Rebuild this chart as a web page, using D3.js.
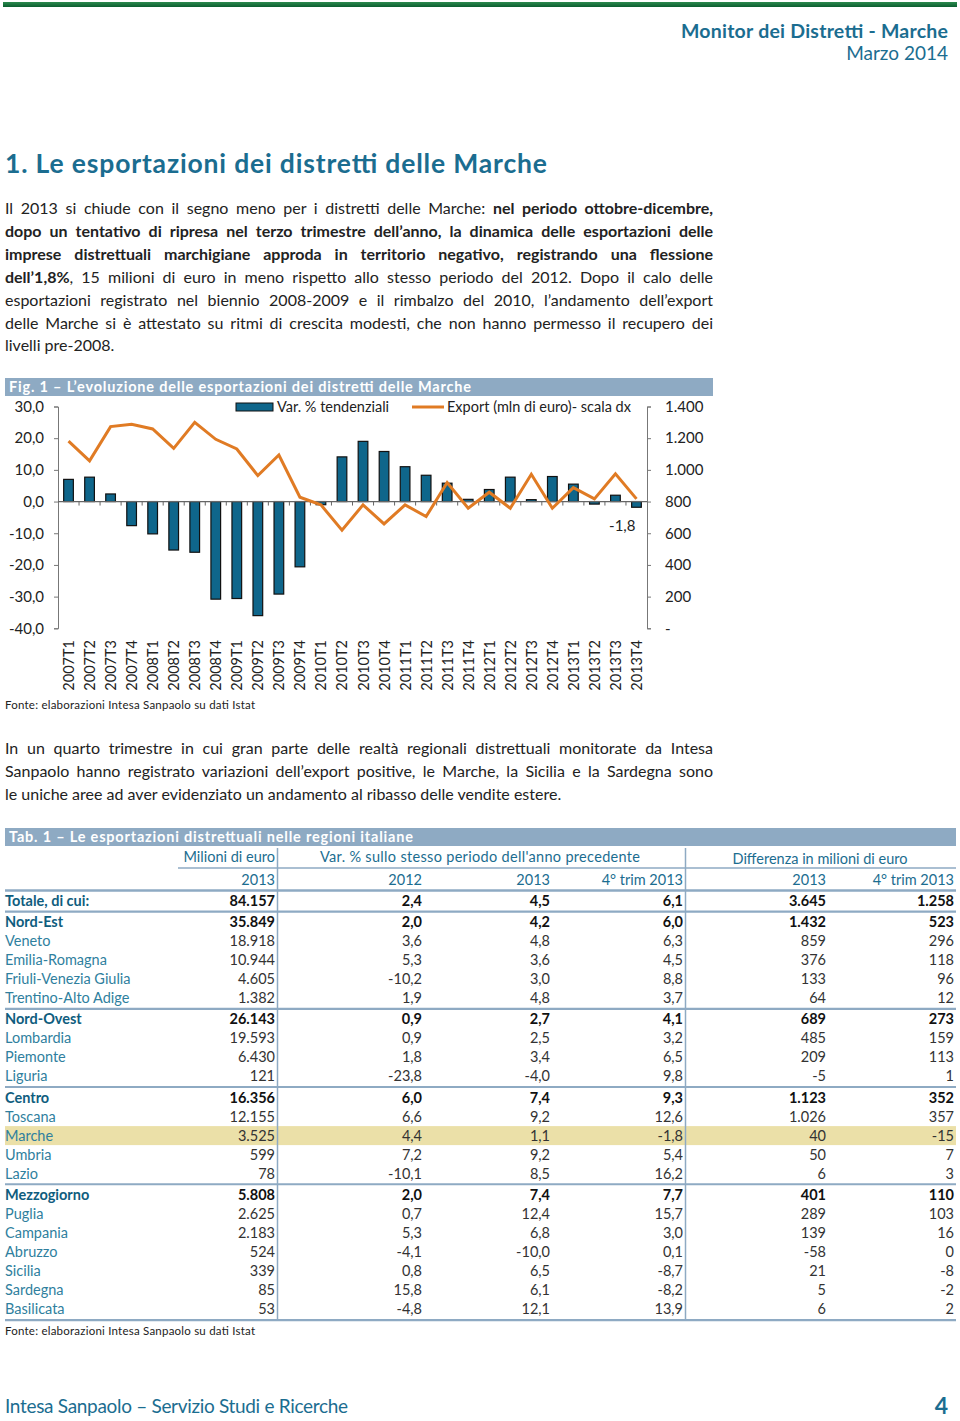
<!DOCTYPE html>
<html><head><meta charset="utf-8">
<script src="https://cdn.jsdelivr.net/npm/d3@7"></script>
<style>body{margin:0;background:#fff} svg{display:block;font-family:Lato,"Open Sans",sans-serif}</style>
</head><body><svg id="page" width="960" height="1421"></svg>
<script>
// ---------- DATA ----------
const categories = ["2007T1","2007T2","2007T3","2007T4","2008T1","2008T2","2008T3","2008T4",
  "2009T1","2009T2","2009T3","2009T4","2010T1","2010T2","2010T3","2010T4","2011T1","2011T2",
  "2011T3","2011T4","2012T1","2012T2","2012T3","2012T4","2013T1","2013T2","2013T3","2013T4"];
const varPct = [7.0, 7.7, 2.4, -7.6, -10.2, -15.3, -16.0, -30.8, -30.6, -36.0, -29.2, -20.6,
  -1.0, 14.1, 19.0, 15.8, 11.0, 8.3, 5.8, 0.7, 3.8, 7.7, 0.6, 7.9, 5.5, -0.8, 2.0, -1.8];
const exportMln = [1181, 1057, 1273, 1288, 1258, 1136, 1300, 1193, 1132, 964, 1094, 827,
  779, 619, 779, 659, 779, 705, 920, 758, 859, 758, 972, 758, 888, 817, 975, 817];
const leftTicks = [30, 20, 10, 0, -10, -20, -30, -40];
const rightTicks = [1400, 1200, 1000, 800, 600, 400, 200, 0];
const seriesNames = ["Var. % tendenziali", "Export (mln di euro)- scala dx"];

const regions = ["Totale, di cui:", "Nord-Est", "Veneto", "Emilia-Romagna", "Friuli-Venezia Giulia",
  "Trentino-Alto Adige", "Nord-Ovest", "Lombardia", "Piemonte", "Liguria", "Centro", "Toscana",
  "Marche", "Umbria", "Lazio", "Mezzogiorno", "Puglia", "Campania", "Abruzzo", "Sicilia",
  "Sardegna", "Basilicata"];
const groupRows = ["Totale, di cui:", "Nord-Est", "Nord-Ovest", "Centro", "Mezzogiorno"];
const highlightRow = "Marche";
const mln2013 = [84157, 35849, 18918, 10944, 4605, 1382, 26143, 19593, 6430, 121, 16356, 12155,
  3525, 599, 78, 5808, 2625, 2183, 524, 339, 85, 53];
const var2012 = [2.4, 2.0, 3.6, 5.3, -10.2, 1.9, 0.9, 0.9, 1.8, -23.8, 6.0, 6.6, 4.4, 7.2, -10.1,
  2.0, 0.7, 5.3, -4.1, 0.8, 15.8, -4.8];
const var2013 = [4.5, 4.2, 4.8, 3.6, 3.0, 4.8, 2.7, 2.5, 3.4, -4.0, 7.4, 9.2, 1.1, 9.2, 8.5,
  7.4, 12.4, 6.8, -10.0, 6.5, 6.1, 12.1];
const var4q2013 = [6.1, 6.0, 6.3, 4.5, 8.8, 3.7, 4.1, 3.2, 6.5, 9.8, 9.3, 12.6, -1.8, 5.4, 16.2,
  7.7, 15.7, 3.0, 0.1, -8.7, -8.2, 13.9];
const diff2013 = [3645, 1432, 859, 376, 133, 64, 689, 485, 209, -5, 1123, 1026, 40, 50, 6,
  401, 289, 139, -58, 21, 5, 6];
const diff4q2013 = [1258, 523, 296, 118, 96, 12, 273, 159, 113, 1, 352, 357, -15, 7, 3,
  110, 103, 16, 0, -8, -2, 2];
const headerTop = ["Milioni di euro", "Var. % sullo stesso periodo dell'anno precedente", "Differenza in milioni di euro"];
const headerSub = ["2013", "2012", "2013", "4° trim 2013", "2013", "4° trim 2013"];

// ---------- STYLE ----------
const TEAL = "#1b6d90", TEAL_L = "#2f7f9e", BAND = "#8eaac3", BAR = "#0f668b", ORANGE = "#e07b24";
const loc = d3.formatLocale({decimal: ",", thousands: ".", grouping: [3], currency: ["€", ""], minus: "-"});
const f1 = loc.format(",.1f"), f0 = loc.format(",.0f");

const svg = d3.select("#page");
svg.append("rect").attr("width", 960).attr("height", 1421).attr("fill", "#fff");

// top green rule
const gr = svg.append("defs").append("linearGradient").attr("id", "gr").attr("x1", 0).attr("x2", 0).attr("y1", 0).attr("y2", 1);
gr.append("stop").attr("offset", 0).attr("stop-color", "#2b8a4e");
gr.append("stop").attr("offset", 1).attr("stop-color", "#0c5e30");
svg.append("rect").attr("x", 3).attr("y", 2).attr("width", 954).attr("height", 5).attr("fill", "url(#gr)");

svg.append("text").attr("x", 948).attr("y", 38).attr("text-anchor", "end").attr("font-size", 19.5)
  .attr("font-weight", 700).attr("fill", TEAL).attr("textLength", 267).attr("lengthAdjust", "spacing")
  .text("Monitor dei Distretti - Marche");
svg.append("text").attr("x", 948).attr("y", 60).attr("text-anchor", "end").attr("font-size", 19)
  .attr("fill", TEAL).text("Marzo 2014");

svg.append("text").attr("x", 5).attr("y", 173).attr("font-size", 26.5).attr("font-weight", 700)
  .attr("fill", TEAL).attr("textLength", 542).attr("lengthAdjust", "spacing")
  .text("1. Le esportazioni dei distretti delle Marche");

// ---------- justified paragraphs ----------
function para(lines, x, y0, lh, width) {
  lines.forEach((segs, i) => {
    const t = svg.append("text").attr("x", x).attr("y", y0 + i * lh).attr("font-size", 16).attr("fill", "#222");
    segs.forEach(s => t.append("tspan").attr("font-weight", s[1] ? 700 : 400).text(s[0]));
    if (i < lines.length - 1) {
      const full = segs.map(s => s[0]).join("");
      const n = (full.match(/ /g) || []).length;
      const len = t.node().getComputedTextLength();
      if (n > 0) t.attr("word-spacing", (width - len) / n);
    }
  });
}
para([
  [["Il 2013 si chiude con il segno meno per i distretti delle Marche: ", 0], ["nel periodo ottobre-dicembre,", 1]],
  [["dopo un tentativo di ripresa nel terzo trimestre dell’anno, la dinamica delle esportazioni delle", 1]],
  [["imprese distrettuali marchigiane approda in territorio negativo, registrando una flessione", 1]],
  [["dell’1,8%", 1], [", 15 milioni di euro in meno rispetto allo stesso periodo del 2012. Dopo il calo delle", 0]],
  [["esportazioni registrato nel biennio 2008-2009 e il rimbalzo del 2010, l’andamento dell’export", 0]],
  [["delle Marche si è attestato su ritmi di crescita modesti, che non hanno permesso il recupero dei", 0]],
  [["livelli pre-2008.", 0]]
], 5, 214, 22.9, 708);

// ---------- CHART ----------
svg.append("rect").attr("x", 5).attr("y", 378).attr("width", 708).attr("height", 18).attr("fill", BAND);
svg.append("text").attr("x", 9).attr("y", 392).attr("font-size", 14.5).attr("font-weight", 700)
  .attr("fill", "#fff").attr("textLength", 462).attr("lengthAdjust", "spacing")
  .text("Fig. 1 – L’evoluzione delle esportazioni dei distretti delle Marche");

const x = d3.scaleBand().domain(categories).range([58, 647]).paddingInner(0.54).paddingOuter(0.27);
const yL = d3.scaleLinear().domain([-40, 30]).range([628.3, 406.5]);
const yR = d3.scaleLinear().domain([0, 1400]).range([628.3, 406.5]);
const cx = d => x(d) + x.bandwidth() / 2;

const ch = svg.append("g").attr("font-size", 15).attr("fill", "#222");

// left axis
const axL = ch.append("g").attr("transform", "translate(58,0)")
  .call(d3.axisLeft(yL).tickValues(leftTicks).tickSize(4).tickPadding(10).tickFormat(f1));
axL.select(".domain").attr("stroke", "#777");
axL.selectAll(".tick line").attr("stroke", "#777");
axL.selectAll("text").attr("font-size", 15).attr("fill", "#222");
axL.attr("font-family", null);

// right axis
const axR = ch.append("g").attr("transform", "translate(647,0)")
  .call(d3.axisRight(yR).tickValues(rightTicks).tickSize(4).tickPadding(14)
    .tickFormat(v => v === 0 ? "-" : f0(v)));
axR.select(".domain").attr("stroke", "#777");
axR.selectAll(".tick line").attr("stroke", "#777");
axR.selectAll("text").attr("font-size", 15).attr("fill", "#222");
axR.attr("font-family", null);

// bars
ch.append("g").selectAll("rect").data(categories).join("rect")
  .attr("x", d => x(d)).attr("width", x.bandwidth())
  .attr("y", (d, i) => yL(Math.max(0, varPct[i])))
  .attr("height", (d, i) => Math.abs(yL(varPct[i]) - yL(0)))
  .attr("fill", BAR).attr("stroke", "#111").attr("stroke-width", 1.2);

// zero axis with category ticks
const axX = ch.append("g").attr("transform", `translate(0,${yL(0)})`);
axX.append("line").attr("x1", 58).attr("x2", 647).attr("stroke", "#666").attr("stroke-width", 1.2);
axX.selectAll("line.t").data(categories.slice(1)).join("line").attr("class", "t")
  .attr("x1", d => x(d) - x.step() * x.paddingInner() / 2).attr("x2", d => x(d) - x.step() * x.paddingInner() / 2)
  .attr("y1", 0).attr("y2", 4).attr("stroke", "#666");

// line
ch.append("path").datum(exportMln)
  .attr("d", d3.line().x((v, i) => cx(categories[i])).y(v => yR(v)))
  .attr("fill", "none").attr("stroke", ORANGE).attr("stroke-width", 3).attr("stroke-linejoin", "miter");

// x labels
ch.append("g").selectAll("text").data(categories).join("text")
  .attr("transform", d => `translate(${cx(d) + 5.5},640) rotate(-90)`)
  .attr("text-anchor", "end").attr("font-size", 14.5).attr("fill", "#222").text(d => d);

// last value label
const last = categories.length - 1;
ch.append("text").attr("x", cx(categories[last]) - 1).attr("y", yL(varPct[last]) + 23.5)
  .attr("text-anchor", "end").attr("font-size", 15).attr("fill", "#222").text(f1(varPct[last]));

// legend
const lg = ch.append("g");
lg.append("rect").attr("x", 236).attr("y", 403).attr("width", 37).attr("height", 8)
  .attr("fill", BAR).attr("stroke", "#111").attr("stroke-width", 1);
lg.append("text").attr("x", 277).attr("y", 412).attr("font-size", 14.5).text(seriesNames[0]);
lg.append("line").attr("x1", 412).attr("x2", 444).attr("y1", 407).attr("y2", 407)
  .attr("stroke", ORANGE).attr("stroke-width", 3);
lg.append("text").attr("x", 447).attr("y", 412).attr("font-size", 14.5).text(seriesNames[1]);

svg.append("text").attr("x", 5).attr("y", 709).attr("font-size", 11.5).attr("fill", "#222")
  .attr("textLength", 250).attr("lengthAdjust", "spacing")
  .text("Fonte: elaborazioni Intesa Sanpaolo su dati Istat");

para([
  [["In un quarto trimestre in cui gran parte delle realtà regionali distrettuali monitorate da Intesa", 0]],
  [["Sanpaolo hanno registrato variazioni dell’export positive, le Marche, la Sicilia e la Sardegna sono", 0]],
  [["le uniche aree ad aver evidenziato un andamento al ribasso delle vendite estere.", 0]]
], 5, 754, 22.9, 708);

// ---------- TABLE ----------
svg.append("rect").attr("x", 5).attr("y", 828).attr("width", 951).attr("height", 18).attr("fill", BAND);
svg.append("text").attr("x", 9).attr("y", 842).attr("font-size", 14.5).attr("font-weight", 700)
  .attr("fill", "#fff").attr("textLength", 404).attr("lengthAdjust", "spacing")
  .text("Tab. 1 – Le esportazioni distrettuali nelle regioni italiane");

const colRight = [275, 422, 550, 683, 826, 954];
const cols = [mln2013, var2012, var2013, var4q2013, diff2013, diff4q2013];
const fmts = [f0, f1, f1, f1, f0, f0];
const rowY = [];
regions.forEach((r, i) => {
  if (i === 0) rowY.push(901);
  else rowY.push(rowY[i - 1] + 19.05 + (groupRows.includes(r) ? 2 : 0));
});

const tb = svg.append("g").attr("font-size", 14.5);
// highlight
const hi = regions.indexOf(highlightRow);
tb.append("rect").attr("x", 5).attr("y", rowY[hi] - 9.5).attr("width", 951).attr("height", 19)
  .attr("fill", "#ebe0a8");

// headers
tb.append("text").attr("x", colRight[0]).attr("y", 862).attr("text-anchor", "end").attr("fill", TEAL).text(headerTop[0]);
tb.append("text").attr("x", 480).attr("y", 862).attr("text-anchor", "middle").attr("fill", TEAL)
  .attr("textLength", 320).attr("lengthAdjust", "spacing").text(headerTop[1]);
tb.append("text").attr("x", 820).attr("y", 864).attr("text-anchor", "middle").attr("fill", TEAL).text(headerTop[2]);
headerSub.forEach((h, j) => tb.append("text").attr("x", colRight[j]).attr("y", 885)
  .attr("text-anchor", "end").attr("fill", TEAL).text(h));

// lines
const LINE = "#8eaac3";
tb.append("line").attr("x1", 178).attr("x2", 956).attr("y1", 868).attr("y2", 868).attr("stroke", LINE).attr("stroke-width", 1.5);
const hl = [890.5];
regions.forEach((r, i) => { if (groupRows.includes(r)) hl.push(rowY[i] - 10.5); });
hl.push(rowY[regions.length - 1] + 11);
hl.forEach((yy, k) => tb.append("line").attr("x1", 5).attr("x2", 956).attr("y1", yy).attr("y2", yy)
  .attr("stroke", LINE).attr("stroke-width", 2.2));
[277.5, 685.5].forEach(xx => tb.append("line").attr("x1", xx).attr("x2", xx).attr("y1", 848)
  .attr("y2", rowY[regions.length - 1] + 10).attr("stroke", LINE).attr("stroke-width", 1.5));

// rows
regions.forEach((r, i) => {
  const g = groupRows.includes(r);
  tb.append("text").attr("x", 5).attr("y", rowY[i] + 5).attr("fill", g ? "#0f5d7e" : TEAL_L)
    .attr("font-weight", g ? 700 : 400).text(r);
  cols.forEach((c, j) => tb.append("text").attr("x", colRight[j]).attr("y", rowY[i] + 5)
    .attr("text-anchor", "end").attr("fill", g ? "#111" : "#333").attr("font-weight", g ? 700 : 400)
    .text(fmts[j](c[i])));
});

svg.append("text").attr("x", 5).attr("y", 1335).attr("font-size", 11.5).attr("fill", "#222")
  .attr("textLength", 250).attr("lengthAdjust", "spacing")
  .text("Fonte: elaborazioni Intesa Sanpaolo su dati Istat");

// footer
svg.append("text").attr("x", 5).attr("y", 1413).attr("font-size", 19).attr("fill", TEAL)
  .attr("textLength", 343).attr("lengthAdjust", "spacing")
  .text("Intesa Sanpaolo – Servizio Studi e Ricerche");
svg.append("text").attr("x", 948).attr("y", 1414).attr("text-anchor", "end").attr("font-size", 23)
  .attr("font-weight", 700).attr("fill", TEAL).text("4");
</script>
</body></html>
